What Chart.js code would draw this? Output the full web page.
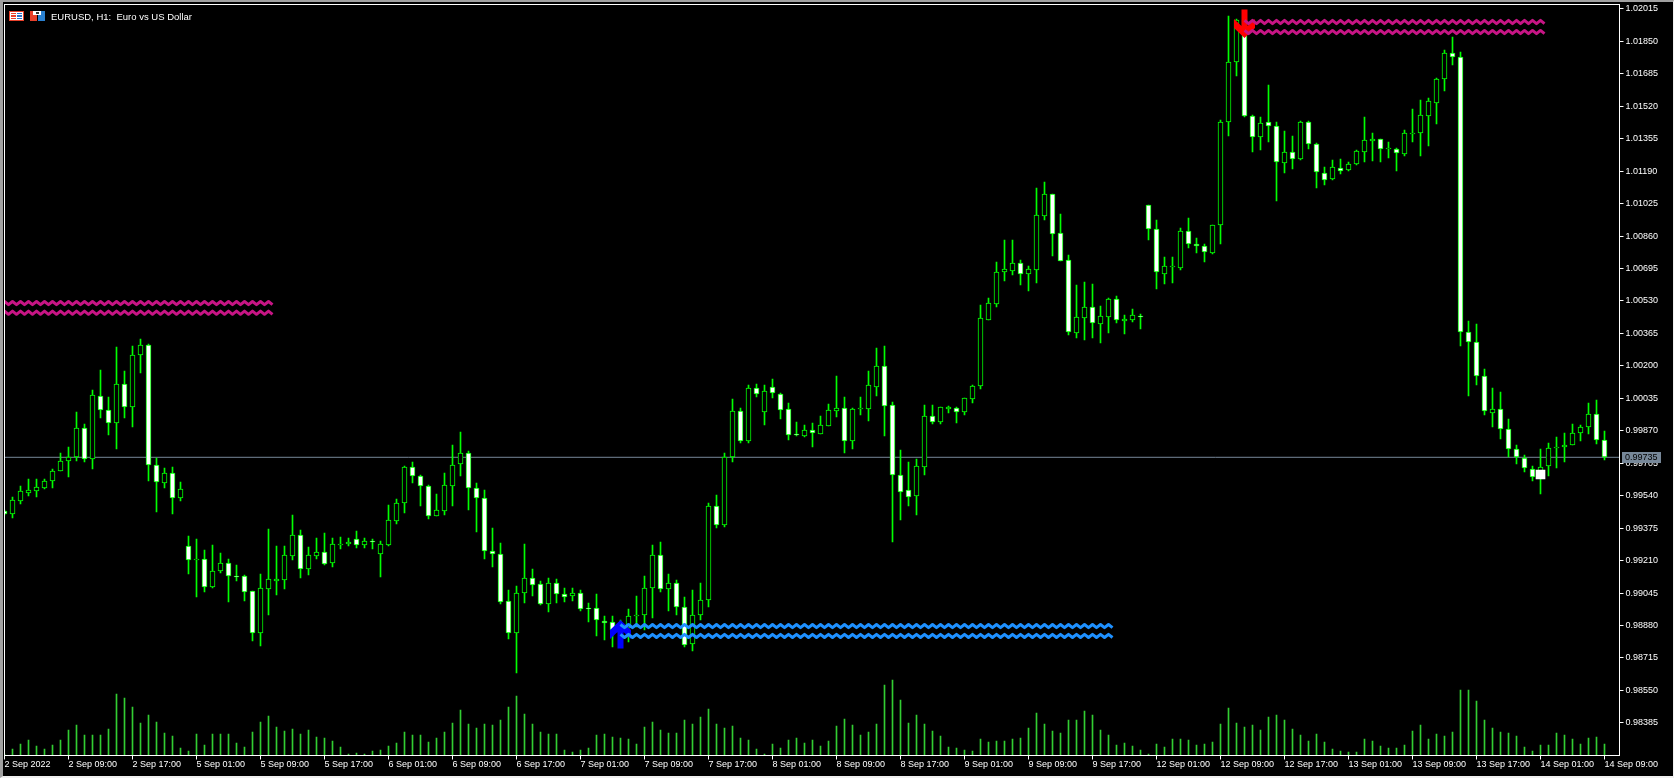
<!DOCTYPE html>
<html>
<head>
<meta charset="utf-8">
<title>EURUSD, H1</title>
<script src="https://cdn.jsdelivr.net/npm/chart.js@4/dist/chart.umd.js"></script>
<style>
  html, body { margin: 0; padding: 0; background: #000; overflow: hidden; }
  #chart { position: absolute; left: 0; top: 0; }
  #edge { position: absolute; left: 0; top: 0; width: 1674px; height: 778px; box-sizing: border-box; pointer-events: none;
          border-style: solid; border-width: 2px 1px 2px 3px; border-color: #a0a0a0 #f0f0f0 #f0f0f0 #a0a0a0; }
  #head { position: absolute; left: 9px; top: 10px; height: 12px; display: flex; align-items: center; color: #fff;
          font: 9.5px "Liberation Sans", sans-serif; white-space: pre; }
  #head svg { margin-right: 6px; }
</style>
</head>
<body>
<canvas id="chart" width="1674" height="778"></canvas>
<div id="edge"></div>
<div id="head"><svg width="15" height="10"><rect width="15" height="10" fill="#fff"/><rect x="0.5" y="0.5" width="14" height="9" fill="none" stroke="#e8402a"/><rect x="2" y="2" width="5" height="1" fill="#e8402a"/><rect x="2" y="4" width="5" height="2" fill="#e8402a"/><rect x="2" y="7" width="5" height="1" fill="#e8402a"/><rect x="8" y="2" width="5" height="1" fill="#2a70c8"/><rect x="8" y="4" width="5" height="2" fill="#2a70c8"/><rect x="8" y="7" width="5" height="1" fill="#2a70c8"/></svg><svg width="15" height="10"><rect width="7" height="10" fill="#e8402a"/><rect x="8" width="7" height="10" fill="#2a80d0"/><rect x="3" width="8" height="4" fill="#fff"/><rect x="6" y="1" width="3" height="2" fill="#333"/></svg><span>EURUSD, H1:  Euro vs US Dollar</span></div>
<script>
// values, one entry per hourly bar
const opens = [
  0.99460,0.99448,0.99514,0.99555,0.99565,0.99580,0.99616,0.99667,0.99714,0.99738,
  0.99882,0.99728,1.00045,0.99973,0.99911,1.00106,0.99992,1.00256,1.00304,0.99694,
  0.99606,0.99653,0.99529,0.99283,0.99215,0.99216,0.99076,0.99155,0.99196,0.99133,
  0.99130,0.99053,0.98844,0.99067,0.99108,0.99113,0.99235,0.99338,0.99169,0.99235,
  0.99252,0.99199,0.99289,0.99293,0.99318,0.99288,0.99308,0.99245,0.99291,0.99413,
  0.99505,0.99684,0.99639,0.99588,0.99439,0.99464,0.99591,0.99700,0.99755,0.99581,
  0.99527,0.99257,0.99242,0.99003,0.98840,0.99044,0.99120,0.99089,0.98991,0.99094,
  0.99039,0.99028,0.99044,0.98967,0.98967,0.98901,0.98896,0.98840,0.98866,0.98930,
  0.98932,0.99069,0.99237,0.99067,0.99094,0.98972,0.98784,0.98933,0.99008,0.99485,
  0.99392,0.99735,0.99968,0.99819,1.00085,0.99967,1.00090,1.00055,0.99979,0.99852,
  0.99845,0.99872,0.99855,0.99896,0.99972,0.99984,0.99816,0.99979,0.99979,1.00094,
  1.00197,0.99999,0.99643,0.99567,0.99536,0.99687,0.99943,0.99916,0.99982,0.99984,
  0.99967,1.00033,1.00099,1.00435,1.00516,1.00676,1.00684,1.00721,1.00669,1.00689,
  1.00964,1.01072,1.00874,1.00737,1.00369,1.00445,1.00498,1.00415,1.00450,1.00538,
  1.00430,1.00435,1.00454,1.01016,1.00894,1.00669,1.00701,1.00699,1.00884,1.00818,
  1.00808,1.00776,1.00914,1.01441,1.01746,1.01958,1.01468,1.01365,1.01438,1.01418,
  1.01233,1.01285,1.01253,1.01438,1.01326,1.01179,1.01150,1.01204,1.01197,1.01228,
  1.01289,1.01344,1.01351,1.01301,1.01301,1.01279,1.01380,1.01385,1.01472,1.01538,
  1.01657,1.01789,1.01768,1.00370,1.00319,1.00146,0.99961,0.99983,0.99877,0.99775,
  0.99729,0.99673,0.99632,0.99692,0.99780,0.99785,0.99800,0.99861,0.99887,0.99953,0.99821
];
const highs = [
  0.99467,0.99531,0.99589,0.99624,0.99624,0.99624,0.99675,0.99756,0.99787,0.99963,
  0.99904,1.00077,1.00178,1.00041,1.00295,1.00172,1.00301,1.00336,1.00310,0.99731,
  0.99680,0.99685,0.99609,0.99335,0.99318,0.99264,0.99289,0.99247,0.99216,0.99188,
  0.99137,0.99056,0.99142,0.99371,0.99284,0.99284,0.99442,0.99366,0.99279,0.99325,
  0.99350,0.99325,0.99330,0.99325,0.99361,0.99325,0.99318,0.99310,0.99493,0.99523,
  0.99691,0.99711,0.99645,0.99594,0.99549,0.99655,0.99798,0.99864,0.99766,0.99605,
  0.99569,0.99376,0.99298,0.99061,0.99081,0.99294,0.99167,0.99105,0.99122,0.99116,
  0.99071,0.99071,0.99061,0.98994,0.99040,0.98928,0.98928,0.98908,0.98964,0.99030,
  0.99132,0.99289,0.99305,0.99142,0.99111,0.99025,0.99060,0.99096,0.99502,0.99543,
  0.99757,1.00031,0.99985,1.00102,1.00107,1.00102,1.00133,1.00060,1.00011,0.99914,
  0.99899,0.99909,0.99945,1.00006,1.00148,1.00041,0.99984,1.00041,1.00174,1.00290,
  1.00301,1.00016,0.99772,0.99711,0.99726,1.00001,1.00001,0.99992,0.99996,0.99989,
  1.00037,1.00102,1.00510,1.00545,1.00728,1.00840,1.00840,1.00738,1.00708,1.01104,
  1.01135,1.01074,1.00972,1.00764,1.00611,1.00626,1.00616,1.00504,1.00543,1.00555,
  1.00459,1.00489,1.00464,1.01018,1.00942,1.00754,1.00754,1.00901,1.00952,1.00850,
  1.00820,1.00918,1.01448,1.01979,1.01962,1.01967,1.01475,1.01465,1.01628,1.01440,
  1.01394,1.01368,1.01445,1.01445,1.01331,1.01211,1.01246,1.01251,1.01236,1.01297,
  1.01465,1.01384,1.01353,1.01338,1.01307,1.01399,1.01506,1.01551,1.01562,1.01662,
  1.01806,1.01872,1.01795,1.00427,1.00412,1.00183,1.00087,1.00066,0.99929,0.99797,
  0.99746,0.99690,0.99777,0.99807,0.99838,0.99858,0.99904,0.99899,1.00010,1.00026,0.99868
];
const lows = [
  0.99441,0.99428,0.99499,0.99538,0.99533,0.99573,0.99578,0.99667,0.99634,0.99716,
  0.99711,0.99675,0.99934,0.99848,0.99777,0.99934,0.99889,1.00163,0.99614,0.99456,
  0.99578,0.99446,0.99512,0.99142,0.99025,0.99050,0.99071,0.99145,0.98999,0.99106,
  0.99005,0.98801,0.98776,0.98932,0.99035,0.99066,0.99213,0.99122,0.99137,0.99218,
  0.99188,0.99177,0.99269,0.99284,0.99274,0.99274,0.99269,0.99127,0.99284,0.99396,
  0.99452,0.99605,0.99488,0.99422,0.99437,0.99442,0.99488,0.99640,0.99467,0.99355,
  0.99218,0.99178,0.98989,0.98811,0.98638,0.98994,0.99030,0.98984,0.98949,0.98994,
  0.99000,0.99005,0.98954,0.98898,0.98827,0.98806,0.98771,0.98806,0.98796,0.98874,
  0.98857,0.98918,0.99050,0.98954,0.98933,0.98769,0.98750,0.98908,0.98974,0.99375,
  0.99380,0.99711,0.99807,0.99807,1.00041,0.99899,1.00036,0.99929,0.99823,0.99843,
  0.99838,0.99787,0.99853,0.99894,0.99940,0.99757,0.99777,0.99950,0.99919,1.00046,
  0.99843,0.99304,0.99416,0.99487,0.99441,0.99645,0.99904,0.99904,0.99960,0.99909,
  0.99950,1.00011,1.00082,1.00433,1.00499,1.00632,1.00662,1.00611,1.00581,1.00621,
  1.00942,1.00759,1.00733,1.00357,1.00342,1.00332,1.00342,1.00316,1.00367,1.00418,
  1.00362,1.00423,1.00387,1.00840,1.00591,1.00616,1.00621,1.00687,1.00799,1.00774,
  1.00728,1.00769,1.00819,1.01368,1.01674,1.01465,1.01287,1.01297,1.01338,1.01038,
  1.01180,1.01201,1.01246,1.01302,1.01104,1.01119,1.01145,1.01175,1.01190,1.01221,
  1.01236,1.01241,1.01236,1.01257,1.01190,1.01267,1.01338,1.01267,1.01318,1.01429,
  1.01597,1.01729,1.00300,1.00046,1.00102,0.99949,0.99888,0.99827,0.99736,0.99700,
  0.99660,0.99614,0.99548,0.99639,0.99680,0.99710,0.99797,0.99817,0.99853,0.99802,0.99721
];
const closes = [
  0.99448,0.99516,0.99562,0.99568,0.99582,0.99617,0.99663,0.99714,0.99739,0.99882,
  0.99728,1.00050,0.99973,0.99911,1.00106,0.99989,1.00253,1.00304,0.99694,0.99607,
  0.99653,0.99529,0.99572,0.99215,0.99216,0.99077,0.99155,0.99196,0.99133,0.99128,
  0.99052,0.98844,0.99069,0.99115,0.99115,0.99237,0.99338,0.99169,0.99237,0.99252,
  0.99194,0.99293,0.99293,0.99303,0.99288,0.99308,0.99306,0.99293,0.99415,0.99501,
  0.99684,0.99639,0.99588,0.99439,0.99466,0.99593,0.99694,0.99755,0.99581,0.99527,
  0.99257,0.99242,0.99001,0.98840,0.99044,0.99120,0.99084,0.98991,0.99094,0.99039,
  0.99027,0.99044,0.98966,0.98966,0.98906,0.98891,0.98857,0.98874,0.98928,0.98932,
  0.99069,0.99237,0.99064,0.99094,0.98972,0.98781,0.98932,0.99010,0.99485,0.99392,
  0.99735,0.99968,0.99819,1.00085,1.00055,1.00070,1.00060,0.99977,0.99850,0.99847,
  0.99872,0.99860,0.99897,0.99974,0.99984,0.99816,0.99979,0.99984,1.00101,1.00197,
  0.99997,0.99643,0.99560,0.99534,0.99689,0.99943,0.99916,0.99989,0.99989,0.99967,
  1.00035,1.00096,1.00442,1.00518,1.00676,1.00691,1.00721,1.00669,1.00691,1.00965,
  1.01072,1.00869,1.00735,1.00371,1.00447,1.00498,1.00416,1.00452,1.00538,1.00432,
  1.00437,1.00457,1.00450,1.00894,1.00676,1.00706,1.00706,1.00884,1.00818,1.00808,
  1.00777,1.00915,1.01438,1.01743,1.01958,1.01468,1.01365,1.01433,1.01418,1.01235,
  1.01285,1.01253,1.01438,1.01326,1.01184,1.01146,1.01209,1.01192,1.01224,1.01290,
  1.01346,1.01351,1.01304,1.01306,1.01284,1.01382,1.01385,1.01474,1.01545,1.01657,
  1.01789,1.01768,1.00370,1.00319,1.00146,0.99968,0.99983,0.99877,0.99775,0.99734,
  0.99683,0.99636,0.99688,0.99780,0.99787,0.99800,0.99861,0.99887,0.99953,0.99821,0.99735
];
const volumes = [
  40,190,340,460,280,190,310,460,760,910,
  610,610,610,790,1840,1720,1450,970,1210,1000,
  670,580,220,130,640,310,640,640,640,370,
  250,700,1000,1180,850,730,790,640,760,550,
  520,430,250,40,70,40,130,160,280,370,
  700,610,610,400,520,700,970,1360,940,820,
  940,910,1060,1450,1780,1240,940,700,640,640,
  160,100,160,220,610,640,550,520,490,340,
  850,1000,760,670,670,1060,940,1150,1390,940,
  820,880,520,460,190,40,340,220,460,520,
  370,460,280,430,880,1090,910,610,700,940,
  2110,2260,1660,970,1210,940,730,580,250,220,
  160,130,490,400,430,430,490,520,820,1270,
  940,730,670,1060,1060,1330,1210,760,610,310,
  370,280,160,40,340,250,490,490,460,310,
  340,400,940,1420,970,850,910,760,1150,1210,
  1060,790,610,430,640,400,190,130,100,100,
  490,430,280,220,220,310,730,910,490,640,
  580,700,1960,1960,1630,1060,820,700,670,580,
  250,130,310,310,670,610,490,340,520,550,340
];
const timeLabels = [
  '2 Sep 2022','2 Sep 09:00','2 Sep 17:00','5 Sep 01:00','5 Sep 09:00','5 Sep 17:00',
  '6 Sep 01:00','6 Sep 09:00','6 Sep 17:00','7 Sep 01:00','7 Sep 09:00','7 Sep 17:00',
  '8 Sep 01:00','8 Sep 09:00','8 Sep 17:00','9 Sep 01:00','9 Sep 09:00','9 Sep 17:00',
  '12 Sep 01:00','12 Sep 09:00','12 Sep 17:00','13 Sep 01:00','13 Sep 09:00','13 Sep 17:00',
  '14 Sep 01:00','14 Sep 09:00'
];
const priceTicks = [
  1.02015,1.01850,1.01685,1.01520,1.01355,1.01190,1.01025,1.00860,1.00695,1.00530,1.00365,1.00200,
  1.00035,0.99870,0.99705,0.99540,0.99375,0.99210,0.99045,0.98880,0.98715,0.98550,0.98385
];
const lastPrice = 0.99735;

// the wavy levels drawn on the chart: [first bar, last bar, price]
const pinkLevels = [[-1, 33.9, 1.00519], [-1, 33.9, 1.00470], [155, 193, 1.01948], [155, 193, 1.01897]];
const blueLevels = [[77, 138.9, 0.98877], [77, 138.9, 0.98827]];
// signal arrows: [bar, price of the tip]
const sellArrow = [155, 1.01867];
const buyArrow = [77, 0.98908];
// white marker box over one candle: [bar, low, high]
const markerBox = [192, 0.99626, 0.99670];

const barsPerLabel = 8;
const lime = '#00ff00';
const font = { family: '"Liberation Sans", sans-serif', size: 9 };

// keep the bar edges on whole pixels, the original has no soft edges
const snapBars = {
  id: 'snapBars',
  beforeDatasetsDraw(chart) {
    chart.getSortedVisibleDatasetMetas().forEach(meta => {
      if (meta.type !== 'bar') return;
      meta.data.forEach(el => {
        if (el.skip) return;
        const top = Math.round(Math.min(el.y, el.base));
        const bottom = Math.max(Math.round(Math.max(el.y, el.base)), top + 1);
        el.y = top;
        el.base = bottom;
      });
    });
  }
};

function drawWave(ctx, chart, level, color) {
  const x0 = chart.scales.x.getPixelForValue(level[0]);
  const x1 = chart.scales.x.getPixelForValue(level[1]);
  const y = chart.scales.y.getPixelForValue(level[2]);
  ctx.beginPath();
  let up = true;
  for (let x = x0; x < x1; x += 4) {
    ctx.lineTo(x, y + (up ? -1.6 : 1.6));
    up = !up;
  }
  ctx.strokeStyle = color;
  ctx.lineWidth = 3;
  ctx.lineJoin = 'round';
  ctx.stroke();
}

// dir = -1 points up, 1 points down
function drawArrow(ctx, chart, arrow, color, dir) {
  const cx = chart.scales.x.getPixelForValue(arrow[0]);
  const tip = chart.scales.y.getPixelForValue(arrow[1]);
  const shape = [[0,0],[10.5,10],[10.5,19],[3,12],[3,28.5],[-3,28.5],[-3,12],[-10.5,19],[-10.5,10]];
  ctx.beginPath();
  shape.forEach(p => ctx.lineTo(cx + p[0], tip - dir * p[1]));
  ctx.closePath();
  ctx.fillStyle = color;
  ctx.fill();
}

const overlays = {
  id: 'overlays',
  afterDatasetsDraw(chart) {
    const ctx = chart.ctx, area = chart.chartArea;
    ctx.save();
    ctx.beginPath();
    ctx.rect(area.left, area.top, area.right - area.left, area.bottom - area.top);
    ctx.clip();
    drawArrow(ctx, chart, sellArrow, '#ff0000', 1);
    drawArrow(ctx, chart, buyArrow, '#0000ff', -1);
    pinkLevels.forEach(l => drawWave(ctx, chart, l, '#c71585'));
    blueLevels.forEach(l => drawWave(ctx, chart, l, '#1e90ff'));
    ctx.restore();
  },
  afterDraw(chart) {
    const ctx = chart.ctx, area = chart.chartArea;
    ctx.save();
    ctx.strokeStyle = '#ffffff';
    ctx.lineWidth = 1;
    ctx.strokeRect(area.left, area.top, area.right - area.left, area.bottom - area.top);
    // current price tag on the axis
    const y = Math.floor(chart.scales.y.getPixelForValue(lastPrice));
    ctx.fillStyle = '#778899';
    ctx.fillRect(area.right + 2.5, y - 5, 39, 11);
    ctx.fillStyle = '#000000';
    ctx.font = font.size + 'px ' + font.family;
    ctx.textBaseline = 'middle';
    ctx.fillText(lastPrice.toFixed(5), area.right + 5.5, y + 1);
    ctx.restore();
  }
};

// no extra room for labels that overhang the plot, its box is fixed
function fixBox(s) {
  s.paddingLeft = s.paddingRight = s.paddingTop = s.paddingBottom = 0;
}

const xMax = 201.875;
const idx = opens.map((_, i) => i);

new Chart(document.getElementById('chart').getContext('2d'), {
  type: 'bar',
  data: {
    datasets: [
      { label: 'Volume', yAxisID: 'yVol', order: 5, barThickness: 1, backgroundColor: '#32cd32',
        data: idx.map(i => ({ x: i, y: volumes[i] })) },
      { type: 'line', label: 'Last', order: 4, borderColor: '#778899', borderWidth: 1, pointRadius: 0,
        data: [{ x: 0, y: lastPrice }, { x: xMax, y: lastPrice }] },
      { label: 'Wick', order: 3, barThickness: 1, backgroundColor: lime,
        data: idx.map(i => ({ x: i, y: [lows[i], highs[i]] })) },
      { label: 'Body', order: 2, barThickness: 5, borderWidth: 1, borderSkipped: false, borderColor: lime,
        backgroundColor: idx.map(i => closes[i] < opens[i] ? '#ffffff' : '#000000'),
        data: idx.map(i => ({ x: i, y: [Math.min(opens[i], closes[i]), Math.max(opens[i], closes[i])] })) },
      { label: 'Marker', order: 1, barThickness: 9, backgroundColor: '#ffffff',
        data: [{ x: markerBox[0], y: [markerBox[1], markerBox[2]] }] }
    ]
  },
  options: {
    responsive: false,
    animation: false,
    devicePixelRatio: 1,
    grouped: false,
    layout: { padding: { left: 4.5, top: 4.5, right: 0, bottom: 0 } },
    plugins: { legend: { display: false }, tooltip: { enabled: false }, title: { display: false } },
    scales: {
      x: {
        type: 'linear', min: 0, max: xMax, offset: false,
        grid: { offset: false, drawOnChartArea: false, tickLength: 4, tickColor: '#ffffff' },
        border: { color: '#ffffff' },
        afterBuildTicks: s => { s.ticks = timeLabels.map((_, k) => ({ value: k * barsPerLabel })); },
        afterFit: s => { s.height = 22.5; fixBox(s); },
        ticks: {
          color: '#ffffff', font: font, padding: 0, align: 'start', autoSkip: false, maxRotation: 0,
          callback: v => timeLabels[v / barsPerLabel]
        }
      },
      y: {
        position: 'right', min: 0.98219, max: 1.02037,
        grid: { drawOnChartArea: false, tickLength: 4, tickColor: '#ffffff' },
        border: { color: '#ffffff' },
        afterBuildTicks: s => { s.ticks = priceTicks.map(v => ({ value: v })); },
        afterFit: s => { s.width = 54.5; fixBox(s); },
        ticks: { color: '#ffffff', font: font, padding: 2, autoSkip: false, callback: v => v.toFixed(5) }
      },
      yVol: { display: false, min: 0, max: 22530 }
    }
  },
  plugins: [snapBars, overlays]
});
</script>
</body>
</html>
